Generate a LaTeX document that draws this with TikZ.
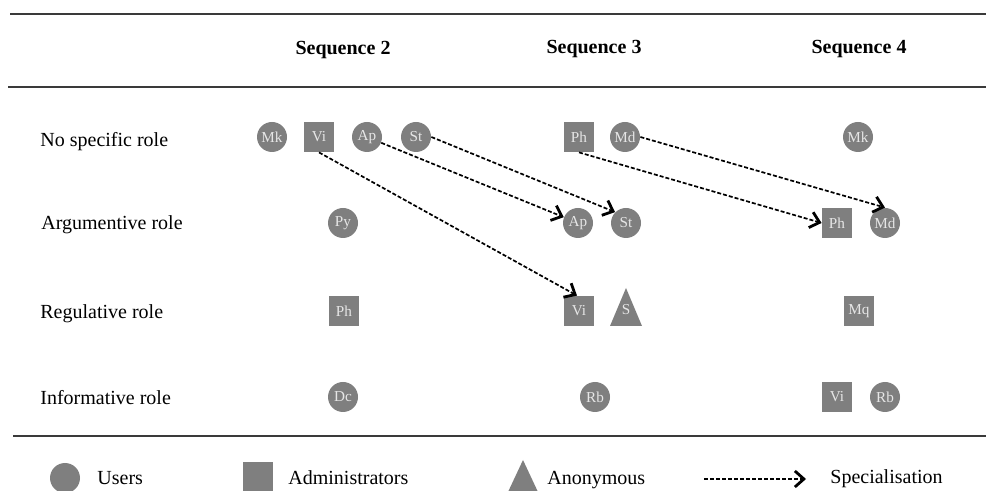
\documentclass[tikz,border=0pt]{standalone}
\usepackage{fontspec}
\setmainfont{Liberation Serif}
\usetikzlibrary{arrows.meta}
\definecolor{shapegray}{HTML}{7F7F7F}
\definecolor{labelgray}{HTML}{E6E6E6}
\definecolor{rulegray}{HTML}{3A3A3A}
\tikzset{
  nodefont/.style={font=\fontsize{7.6}{9}\selectfont},
  user/.style={circle,fill=shapegray,minimum size=15pt,inner sep=0pt,text=labelgray,nodefont},
  admin/.style={rectangle,fill=shapegray,minimum size=15pt,inner sep=0pt,text=labelgray,nodefont},
  spec/.style={draw=black,line width=0.85pt,dash pattern=on 2pt off 1pt,-{Straight Barb[length=4.5pt,width=8pt,line width=1.4pt]}},
  rowlabel/.style={anchor=base west,inner sep=0pt,font=\fontsize{10}{12}\selectfont},
  header/.style={anchor=base,inner sep=0pt,font=\fontsize{10}{12}\selectfont\bfseries},
  rulel/.style={draw=rulegray,line width=1pt},
  anonym/.style={fill=shapegray}
}
\begin{document}
\begin{tikzpicture}[x=0.5pt,y=-0.5pt]
\useasboundingbox (0,0) rectangle (986,491);
% rules
\coordinate (r1a) at (10,14); \coordinate (r1b) at (986,14);
\coordinate (r2a) at (8,87); \coordinate (r2b) at (986,87);
\coordinate (r3a) at (13,436); \coordinate (r3b) at (986,436);
\draw[rulel] (r1a) -- (r1b);
\draw[rulel] (r2a) -- (r2b);
\draw[rulel] (r3a) -- (r3b);
% headers
\node[header] (h2) at (343,55) {Sequence 2};
\node[header] (h3) at (594,54) {Sequence 3};
\node[header] (h4) at (859,54) {Sequence 4};
% row labels
\node[rowlabel] (l1) at (40,147) {No specific role};
\node[rowlabel] (l2) at (41,230) {Argumentive role};
\node[rowlabel] (l3) at (40,319) {Regulative role};
\node[rowlabel] (l4) at (40,405) {Informative role};
% row 1
\node[user]  (Mk1) at (272,137) {Mk};
\node[admin] (Vi1) at (319,137) {Vi};
\node[user]  (Ap1) at (367,137) {Ap};
\node[user]  (St1) at (416,137) {St};
\node[admin] (Ph1) at (579,137) {Ph};
\node[user]  (Md1) at (625,137) {Md};
\node[user]  (Mk4) at (858,137) {Mk};
% row 2
\node[user]  (Py2) at (343,223) {Py};
\node[user]  (Ap2) at (578,223) {Ap};
\node[user]  (St2) at (626,223) {St};
\node[admin] (Ph2) at (837,223) {Ph};
\node[user]  (Md2) at (885,223) {Md};
% row 3
\node[admin] (Ph3) at (344,311) {Ph};
\node[admin] (Vi3) at (579,311) {Vi};
\fill[anonym] (610,326) -- (626,288) -- (642,326) -- cycle;
\node[text=labelgray,nodefont,inner sep=0pt] (S3) at (626,310) {S};
\node[admin] (Mq3) at (859,311) {Mq};
% row 4
\node[user]  (Dc4) at (343,397) {Dc};
\node[user]  (Rb4) at (595,397) {Rb};
\node[admin] (Vi4) at (837,397) {Vi};
\node[user]  (Rb44) at (885,397) {Rb};
% specialisation arrows
\draw[spec] (Vi1.south) -- ([xshift=-1pt]Vi3.north);
\draw[spec] (Ap1) -- (Ap2);
\draw[spec] (St1.east) -- (St2.north west);
\draw[spec] (Ph1.south) -- (Ph2.west);
\draw[spec] (Md1.east) -- (Md2.north);
% legend
\node[user] (lgU) at (65,478) {};
\node[rowlabel] (lgUt) at (97,485) {Users};
\node[admin] (lgA) at (258,477) {};
\node[rowlabel] (lgAt) at (288,485) {Administrators};
\fill[anonym] (508,492) -- (523,460) -- (538,492) -- cycle;
\node[rowlabel] (lgNt) at (547,485) {Anonymous};
\coordinate (lgS1) at (704,479);
\coordinate (lgS2) at (806,479);
\draw[spec] (lgS1) -- (lgS2);
\node[rowlabel] (lgSt) at (830,484) {Specialisation};
\end{tikzpicture}
\end{document}
